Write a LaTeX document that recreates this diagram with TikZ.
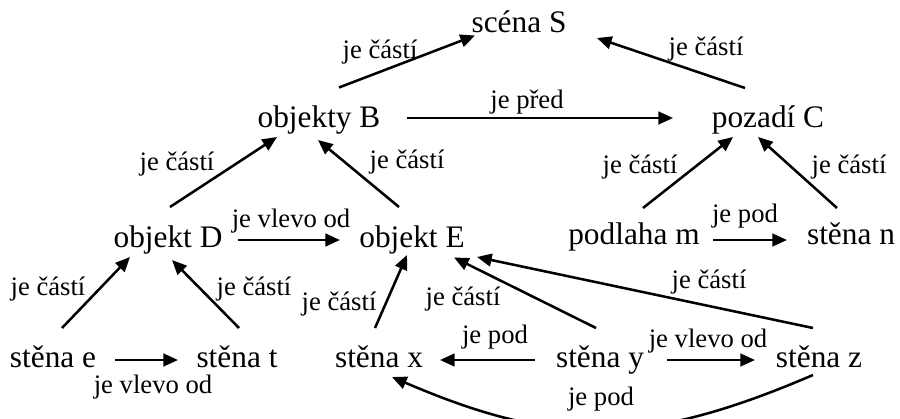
\documentclass[tikz,border=0pt]{standalone}
\usepackage{fontspec}
\setmainfont{Liberation Serif}
\usetikzlibrary{arrows.meta,calc}

\tikzset{
  uzel/.style={inner sep=0pt, anchor=base, text height=16.5pt, text depth=5.25pt, font=\fontsize{23.5}{28}\selectfont},
  popis/.style={inner sep=0pt, anchor=base, font=\fontsize{20}{24}\selectfont},
  sipka/.style={line width=1.9pt, -{Triangle[length=11pt,width=9.5pt]}}
}

\begin{document}
\begin{tikzpicture}[x=0.75pt,y=0.75pt,yscale=-1,xscale=1]
\useasboundingbox (0,0) rectangle (900,418);

%Text Nodes
\node[uzel] (scena) at (519,32) {scéna S};
\node[uzel] (objB) at (319,127) {objekty B};
\node[uzel] (pozC) at (768,127) {pozadí C};
\node[uzel] (objD) at (168,247) {objekt D};
\node[uzel] (objE) at (412,247) {objekt E};
\node[uzel] (podm) at (634,244) {podlaha m};
\node[uzel] (stn) at (851,244) {stěna n};
\node[uzel] (ste) at (53,367) {stěna e};
\node[uzel] (stt) at (237,367) {stěna t};
\node[uzel] (stx) at (379,367) {stěna x};
\node[uzel] (sty) at (600,367) {stěna y};
\node[uzel] (stz) at (819,367) {stěna z};

%Straight Lines
\draw[sipka] ($(objB)+(20,-32)$) -- ($(scena)+(-44,11)$);
\draw[sipka] ($(pozC)+(-23,-31.5)$) -- ($(scena)+(78,13.5)$);
\draw[sipka] ($(objB)+(88,-1.5)$) -- ($(pozC)+(-95,-1.5)$);
\draw[sipka] ($(objD)+(2,-32.5)$) -- ($(objB)+(-42,17.5)$);
\draw[sipka] ($(objE)+(-13,-32.5)$) -- ($(objB)+(-1,20.5)$);
\draw[sipka] ($(podm)+(9,-28.5)$) -- ($(pozC)+(-35,17.5)$);
\draw[sipka] ($(stn)+(-14,-28.5)$) -- ($(pozC)+(-10,17.5)$);
\draw[sipka] ($(objD)+(70,0.5)$) -- ($(objE)+(-72,0.5)$);
\draw[sipka] ($(podm)+(79,3.5)$) -- ($(stn)+(-64,3.5)$);
\draw[sipka] ($(ste)+(9,-31.5)$) -- ($(objD)+(-38,17.5)$);
\draw[sipka] ($(stt)+(2,-31.5)$) -- ($(objD)+(4,20.5)$);
\draw[sipka] ($(stx)+(-4,-31.5)$) -- ($(objE)+(-5,15.5)$);
\draw[sipka] ($(sty)+(-4,-31.5)$) -- ($(objE)+(42,18)$);
\draw[sipka] ($(stz)+(-6,-31.5)$) -- ($(objE)+(65,17.5)$);
\draw[sipka] ($(ste)+(62,0.5)$) -- ($(stt)+(-59,0.5)$);
\draw[sipka] ($(sty)+(-65,0.5)$) -- ($(stx)+(61,0.5)$);
\draw[sipka] ($(sty)+(67,0.5)$) -- ($(stz)+(-64,0.5)$);
%Curve Lines
\draw[sipka] ($(stz)+(-6,15.5)$) .. controls (645,447) and (555,447) .. ($(stx)+(13,17.5)$);

%Labels
\node[popis] (l1) at (380,58) {je částí};
\node[popis] (l2) at (706,55) {je částí};
\node[popis] (l3) at (527,108) {je před};
\node[popis] (l4) at (177,170) {je částí};
\node[popis] (l5) at (407,168) {je částí};
\node[popis] (l6) at (640,173) {je částí};
\node[popis] (l7) at (849,173) {je částí};
\node[popis] (l8) at (291,227) {je vlevo od};
\node[popis] (l9) at (745,222) {je pod};
\node[popis] (l10) at (48,295) {je částí};
\node[popis] (l11) at (254,295) {je částí};
\node[popis] (l12) at (339,310) {je částí};
\node[popis] (l13) at (463,305) {je částí};
\node[popis] (l14) at (709,288) {je částí};
\node[popis] (l15) at (153,393) {je vlevo od};
\node[popis] (l16) at (495,343) {je pod};
\node[popis] (l17) at (708,347) {je vlevo od};
\node[popis] (l18) at (601,405) {je pod};

\end{tikzpicture}
\end{document}
